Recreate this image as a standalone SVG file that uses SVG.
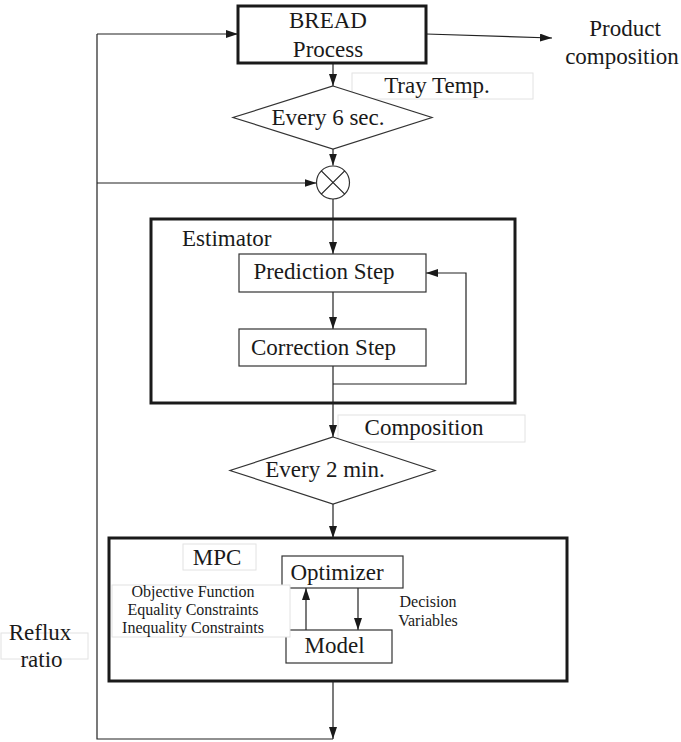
<svg xmlns="http://www.w3.org/2000/svg" width="681" height="742" viewBox="0 0 681 742">
  <style>
    text { font-family: "Liberation Serif", "Times New Roman", serif; fill: #1a1a1a; }
    .big { font-size: 23px; }
    .small { font-size: 16px; }
    .mid { text-anchor: middle; }
    .thick { fill: #fff; stroke: #1a1a1a; stroke-width: 3; }
    .thin { fill: #fff; stroke: #333; stroke-width: 1.2; }
    .label { fill: #fff; stroke: #e2e2e2; stroke-width: 1; }
    .wire { fill: none; stroke: #222; stroke-width: 1.2; }
    .arrow { fill: none; stroke: #222; stroke-width: 1.2; marker-end: url(#head); }
  </style>
  <defs>
    <marker id="head" viewBox="0 0 12 8" refX="12" refY="4" markerWidth="12" markerHeight="8" markerUnits="userSpaceOnUse" orient="auto">
      <path d="M0,0 L12,4 L0,8 Z" fill="#1a1a1a"/>
    </marker>
  </defs>
  <rect width="681" height="742" fill="#fff"/>

  <!-- outer containers -->
  <g id="estimator">
    <rect class="thick" x="151" y="219" width="364" height="184"/>
    <text class="big" x="182" y="246">Estimator</text>
  </g>
  <g id="mpc">
    <rect class="thick" x="109" y="538" width="458" height="143"/>
    <rect class="label" x="183" y="544" width="73" height="26"/>
    <text class="big mid" x="217" y="565">MPC</text>
  </g>

  <!-- connectors -->
  <g id="connectors">
    <!-- process output -->
    <path class="arrow" d="M426,34 L552,38"/>
    <!-- process to sampler -->
    <path class="arrow" d="M333,63 L333,86"/>
    <path class="arrow" d="M333,149 L333,165.5"/>
    <!-- into estimator -->
    <path class="arrow" d="M333,199 L333,254"/>
    <path class="arrow" d="M333,292 L333,329"/>
    <!-- correction back to prediction -->
    <path class="arrow" d="M333,384 L466,384 L466,273 L426,273"/>
    <!-- estimate out -->
    <path class="arrow" d="M333,366 L333,437"/>
    <path class="arrow" d="M333,504 L333,538"/>
    <!-- optimizer / model loop -->
    <path class="arrow" d="M306,630 L306,588"/>
    <path class="arrow" d="M358,588 L358,630"/>
    <!-- reflux feedback -->
    <path class="arrow" d="M333,681 L333,739"/>
    <path class="wire" d="M333,739 L97,739 L97,34"/>
    <path class="arrow" d="M97,34 L238,34"/>
    <path class="arrow" d="M97,183 L316.5,183"/>
  </g>

  <g id="bread">
    <rect class="thick" x="238" y="6" width="188" height="57"/>
    <text class="big mid" x="328" y="28">BREAD</text>
    <text class="big mid" x="328" y="57">Process</text>
  </g>

  <g id="product-label">
    <text class="big mid" x="625" y="36">Product</text>
    <text class="big mid" x="622" y="64">composition</text>
  </g>

  <g id="tray-label">
    <rect class="label" x="352" y="73" width="181" height="26"/>
    <text class="big mid" x="437" y="93">Tray Temp.</text>
  </g>

  <g id="sample-6s">
    <polygon class="thin" points="333,86 432,117.5 333,149 233,117.5"/>
    <text class="big mid" x="328" y="125">Every 6 sec.</text>
  </g>

  <g id="junction">
    <circle class="thin" cx="333" cy="182.5" r="16.5"/>
    <path class="wire" d="M321.3,170.8 L344.7,194.2 M344.7,170.8 L321.3,194.2"/>
  </g>

  <g id="prediction">
    <rect class="thin" x="239" y="254" width="187" height="38"/>
    <text class="big mid" x="324" y="279">Prediction Step</text>
  </g>

  <g id="correction">
    <rect class="thin" x="239" y="329" width="187" height="37"/>
    <text class="big mid" x="323.5" y="355">Correction Step</text>
  </g>

  <g id="composition-label">
    <rect class="label" x="338" y="415" width="187" height="27"/>
    <text class="big mid" x="424" y="435">Composition</text>
  </g>

  <g id="sample-2min">
    <polygon class="thin" points="333,437 435,470.5 333,504 230,470.5"/>
    <text class="big mid" x="325" y="477">Every 2 min.</text>
  </g>

  <g id="optimizer">
    <rect class="thin" x="282" y="556" width="121" height="32"/>
    <text class="big mid" x="337" y="580">Optimizer</text>
  </g>

  <g id="model">
    <rect class="thin" x="286" y="630" width="106" height="33"/>
    <text class="big mid" x="334.5" y="653">Model</text>
  </g>

  <g id="objective-label">
    <rect class="label" x="112" y="585" width="178" height="52"/>
    <text class="small mid" x="193" y="597">Objective Function</text>
    <text class="small mid" x="193" y="615">Equality Constraints</text>
    <text class="small mid" x="193" y="633">Inequality Constraints</text>
  </g>

  <g id="decision-label">
    <text class="small mid" x="428" y="607">Decision</text>
    <text class="small mid" x="428" y="626">Variables</text>
  </g>

  <g id="reflux-label">
    <rect class="label" x="1" y="633" width="87" height="26"/>
    <text class="big mid" x="40" y="640">Reflux</text>
    <text class="big mid" x="41.5" y="667">ratio</text>
  </g>
</svg>
